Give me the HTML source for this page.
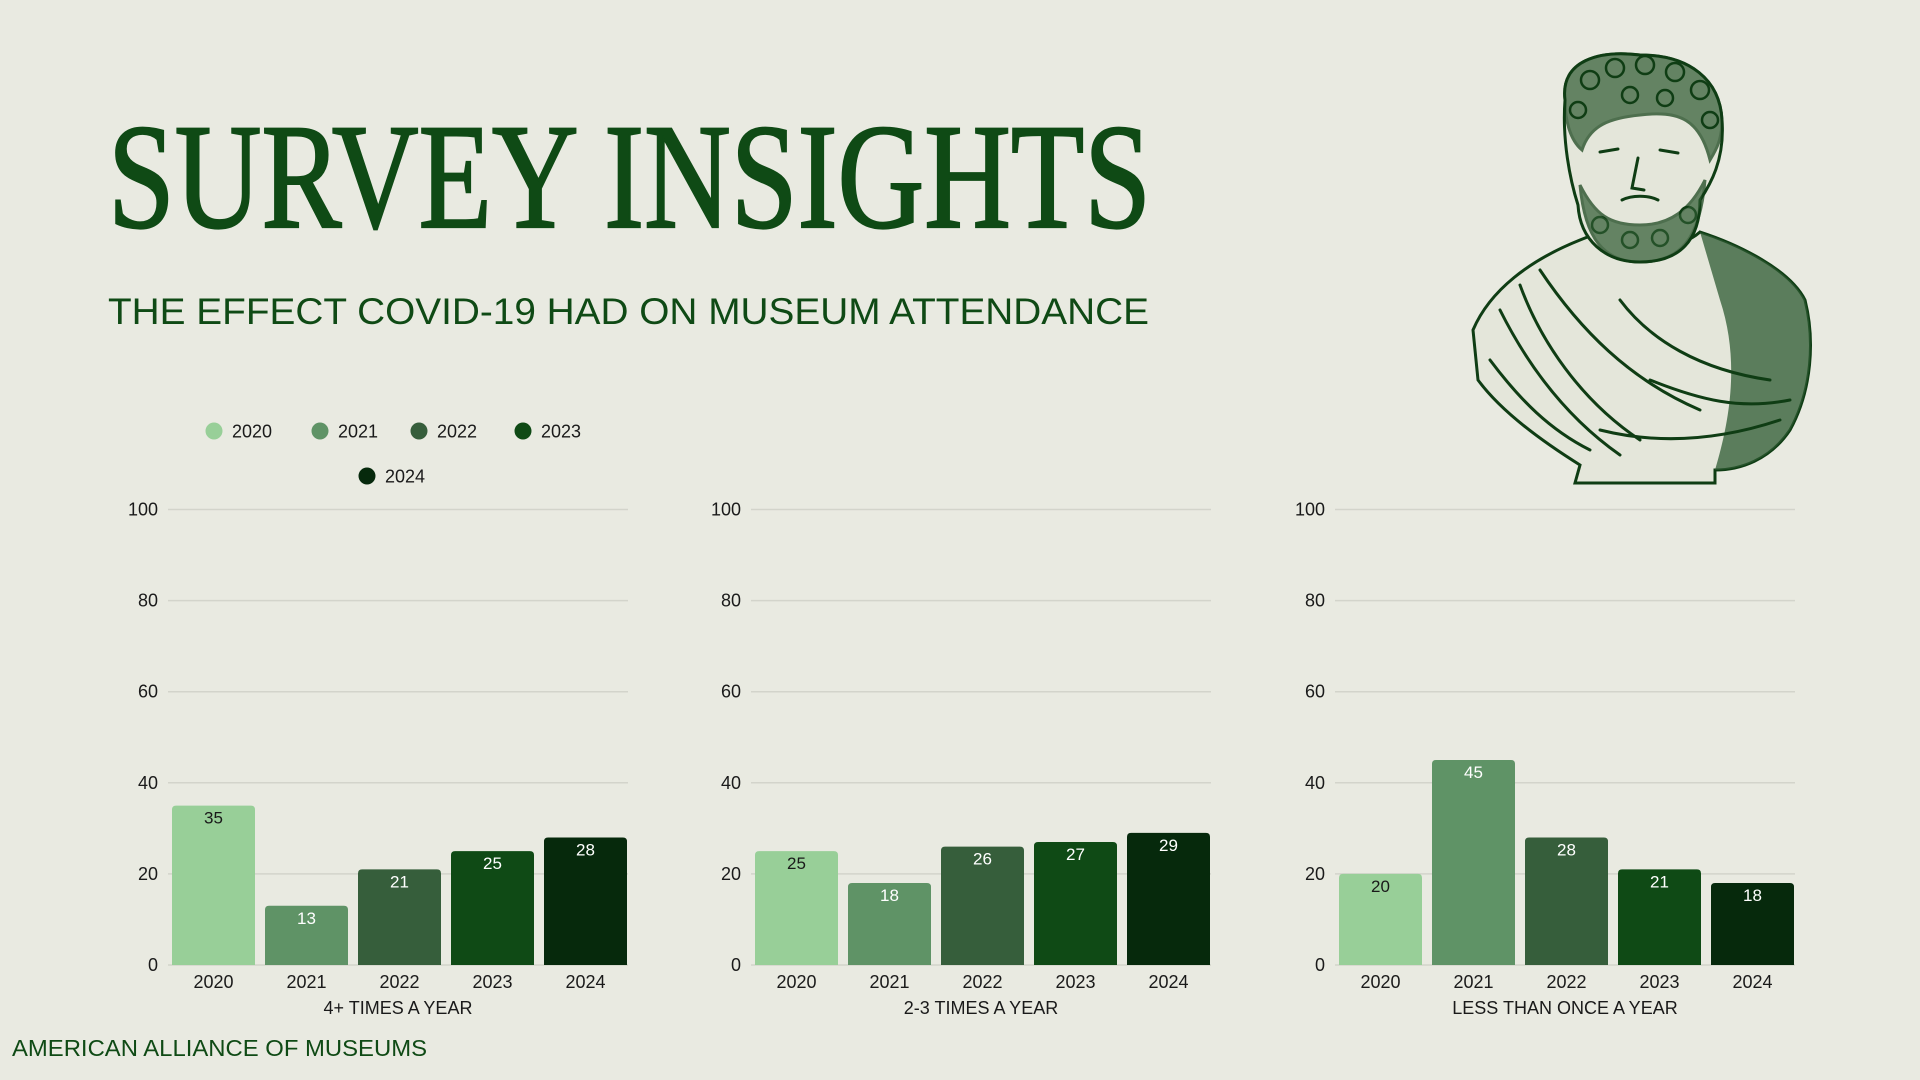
<!DOCTYPE html>
<html><head><meta charset="utf-8"><style>
html,body{margin:0;padding:0;background:#e9eae1;}
svg{display:block;font-family:"Liberation Sans",sans-serif;}
</style></head><body>
<svg id="root" width="1920" height="1080" viewBox="0 0 1920 1080">
<rect width="1920" height="1080" fill="#e9eae1"/>
<text x="108" y="227" font-family="Liberation Serif, serif" font-size="150" fill="#0f4a15" stroke="#0f4a15" stroke-width="2.2" textLength="1043" lengthAdjust="spacingAndGlyphs">SURVEY INSIGHTS</text>
<text x="108" y="324" font-size="37" fill="#0f4a15" textLength="1041" lengthAdjust="spacingAndGlyphs">THE EFFECT COVID-19 HAD ON MUSEUM ATTENDANCE</text>
<text x="12" y="1056" font-size="23" fill="#0f4a15" textLength="415" lengthAdjust="spacingAndGlyphs">AMERICAN ALLIANCE OF MUSEUMS</text>

<g id="bust" fill="none" stroke="#0f3d14" stroke-width="3" stroke-linecap="round">
  <path d="M1473 330 C1490 290 1530 260 1580 240 L1600 232 C1640 250 1680 250 1700 232 C1740 245 1790 270 1805 300 C1815 340 1812 390 1790 430 C1770 460 1740 470 1715 470 L1715 483 L1575 483 L1580 465 C1540 440 1500 410 1478 380 Z" fill="#e4e6da"/>
  <path d="M1700 232 C1740 245 1790 270 1805 300 C1815 340 1812 390 1790 430 C1770 460 1740 470 1715 470 C1730 420 1740 360 1720 300 Z" fill="#2e5a31" stroke="none" opacity="0.75"/>
  <path d="M1565 100 C1560 60 1600 50 1640 55 C1690 55 1720 80 1722 120 C1725 160 1710 185 1700 200 C1700 240 1680 262 1640 262 C1605 262 1580 240 1578 205 C1570 180 1562 140 1565 100 Z" fill="#e4e6da"/>
  <path d="M1565 100 C1560 60 1600 50 1640 55 C1690 55 1720 80 1722 120 C1722 140 1716 150 1710 160 C1700 120 1680 110 1640 115 C1610 118 1590 125 1582 150 C1570 140 1565 120 1565 100 Z" fill="#2e5a31" opacity="0.7"/>
  <g stroke-width="2.5">
    <circle cx="1590" cy="80" r="9"/><circle cx="1615" cy="68" r="9"/><circle cx="1645" cy="65" r="9"/><circle cx="1675" cy="72" r="9"/><circle cx="1700" cy="90" r="9"/><circle cx="1710" cy="120" r="8"/><circle cx="1578" cy="110" r="8"/><circle cx="1630" cy="95" r="8"/><circle cx="1665" cy="98" r="8"/><circle cx="1600" cy="225" r="8"/><circle cx="1630" cy="240" r="8"/><circle cx="1660" cy="238" r="8"/><circle cx="1688" cy="215" r="8"/>
  </g>
  <path d="M1580 185 C1595 215 1610 225 1640 225 C1670 225 1690 210 1705 180 C1700 240 1680 262 1640 262 C1605 262 1585 240 1580 185 Z" fill="#2e5a31" opacity="0.7"/>
  <path d="M1600 152 l18 -3 M1660 150 l18 3 M1638 158 l-6 30 l12 2 M1622 200 c10 -5 26 -5 36 0"/>
  <path d="M1520 285 C1540 340 1580 400 1640 440 M1500 310 C1530 370 1570 420 1620 455 M1540 270 C1580 330 1630 380 1700 410 M1620 300 C1650 340 1700 370 1770 380 M1650 380 C1700 400 1740 410 1790 400 M1600 430 C1660 445 1720 440 1780 420 M1490 360 C1520 400 1550 430 1590 450"/>
</g>

<g id="legend" font-size="18" fill="#1a1a1a"></g>
<g id="charts"></g>
</svg>
<script>
const years = ["2020","2021","2022","2023","2024"];
const categories = ["4+ TIMES A YEAR","2-3 TIMES A YEAR","LESS THAN ONCE A YEAR"];
const values4plus = [35,13,21,25,28];
const values2to3 = [25,18,26,27,29];
const valuesLess = [20,45,28,21,18];
const yTicks = [0,20,40,60,80,100];
const colors = ["#98cf98","#5f9366","#365e3b","#0f4a15","#06290c"];
const seriesAll = [values4plus, values2to3, valuesLess];

const NS = "http://www.w3.org/2000/svg";
function mk(tag, attrs, parent){const e=document.createElementNS(NS,tag);for(const k in attrs)e.setAttribute(k,attrs[k]);parent.appendChild(e);return e;}
const Y0=965, YH=455.5, PW=460;
const chartX=[168,751,1335];
function yScale(v){return Y0 - v/100*YH;}
function xBand(i,x0){return x0+4+i*93;}

const lg=document.getElementById('legend');
const legPos=[[214,431],[320,431],[419,431],[523,431],[367,476]];
years.forEach((yr,i)=>{
  const g=mk('g',{},lg);
  
  
  mk('circle',{cx:legPos[i][0],cy:legPos[i][1],r:8.5,fill:colors[i]},g);
  const t=mk('text',{x:legPos[i][0]+18,y:legPos[i][1]+6.5},g);t.textContent=yr;
});

const charts=document.getElementById('charts');
categories.forEach((cat,c)=>{
  const x0=chartX[c];
  const g=mk('g',{},charts);
  
  
  yTicks.forEach(t=>{
    const y=yScale(t);
    const l=mk('line',{x1:x0,x2:x0+PW,y1:y,y2:y,stroke:'#d3d4cb','stroke-width':1.5},g);
    
    
    const tx=mk('text',{x:x0-10,y:y+6,'text-anchor':'end','font-size':18,fill:'#1a1a1a'},g);
    
    
    tx.textContent=t;
  });
  const vals=seriesAll[c];
  vals.forEach((v,i)=>{
    const x=xBand(i,x0), w=83, top=yScale(v), r=4;
    const p=mk('path',{d:`M${x} ${Y0} V${top+r} Q${x} ${top} ${x+r} ${top} H${x+w-r} Q${x+w} ${top} ${x+w} ${top+r} V${Y0} Z`,fill:colors[i]},g);
    
    
    const vl=mk('text',{x:x+w/2,y:top+18,'text-anchor':'middle','font-size':17,fill:i===0?'#1a1a1a':'#ffffff'},g);
    
    
    vl.textContent=v;
    const xl=mk('text',{x:x+w/2,y:988,'text-anchor':'middle','font-size':18,fill:'#1a1a1a'},g);
    
    
    xl.textContent=years[i];
  });
  const ct=mk('text',{x:x0+PW/2,y:1014,'text-anchor':'middle','font-size':18,fill:'#1a1a1a'},g);
  
  
  ct.textContent=cat;
});
</script>
</body></html>
